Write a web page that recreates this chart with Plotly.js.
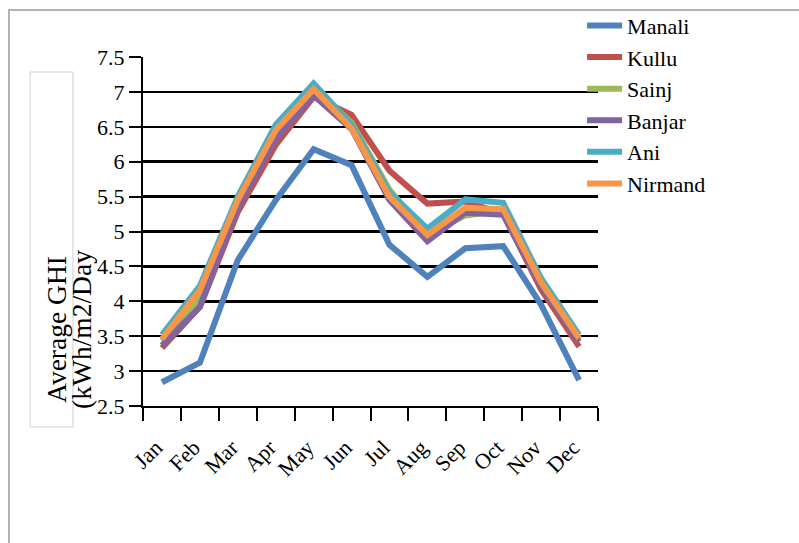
<!DOCTYPE html>
<html>
<head>
<meta charset="utf-8">
<script src="https://cdn.plot.ly/plotly-3.0.1.min.js"></script>
<style>
  body { margin: 0; background: #fff; }
  #ghi_chart { width: 799px; height: 543px; }
</style>
</head>
<body>
<div id="ghi_chart"></div>
<script>
var months = ["Jan", "Feb", "Mar", "Apr", "May", "Jun", "Jul", "Aug", "Sep", "Oct", "Nov", "Dec"];

var manali  = [2.84, 3.12, 4.59, 5.45, 6.18, 5.95, 4.81, 4.35, 4.76, 4.79, 3.95, 2.87];
var kullu   = [3.33, 3.92, 5.28, 6.24, 6.93, 6.67, 5.87, 5.40, 5.43, 5.25, 4.17, 3.35];
var sainj   = [3.43, 4.05, 5.42, 6.42, 7.06, 6.56, 5.60, 4.95, 5.23, 5.30, 4.28, 3.45];
var banjar  = [3.37, 3.92, 5.35, 6.33, 6.95, 6.47, 5.45, 4.86, 5.27, 5.24, 4.22, 3.42];
var ani     = [3.52, 4.22, 5.50, 6.53, 7.12, 6.53, 5.56, 5.04, 5.46, 5.41, 4.33, 3.52];
var nirmand = [3.46, 4.16, 5.45, 6.45, 7.04, 6.48, 5.50, 4.95, 5.34, 5.32, 4.27, 3.47];

var yTitle1 = "Average GHI";
var yTitle2 = "(kWh/m2/Day";

var serif = "Liberation Serif";

function makeLine(name, vals, color) {
	return {
		x: months,
		y: vals,
		name: name,
		type: 'scatter',
		mode: 'lines',
		line: {color: color, width: 6}
	};
}

var data = [
	makeLine("Manali", manali, "#4F81BD"),
	makeLine("Kullu", kullu, "#C0504D"),
	makeLine("Sainj", sainj, "#9BBB59"),
	makeLine("Banjar", banjar, "#8064A2"),
	makeLine("Ani", ani, "#4BACC6"),
	makeLine("Nirmand", nirmand, "#F79646")
];

var layout = {
	width: 799,
	height: 543,
	autosize: false,
	margin: {l: 143, r: 201, t: 57, b: 137, autoexpand: false},
	paper_bgcolor: '#fff',
	plot_bgcolor: '#fff',
	font: {family: serif, size: 22, color: '#000'},
	showlegend: true,
	legend: {
		x: 0.965, xanchor: 'left',
		y: 1.15, yanchor: 'top',
		itemwidth: 35,
		font: {family: serif, size: 22, color: '#000'},
		bgcolor: 'rgba(0,0,0,0)',
		tracegroupgap: 0
	},
	xaxis: {
		type: 'category',
		range: [-0.5, 11.5],
		tickson: 'boundaries',
		showgrid: false,
		showline: true,
		linecolor: '#000',
		linewidth: 2,
		ticks: 'outside',
		ticklen: 13,
		tickwidth: 2,
		tickcolor: '#000',
		tickangle: -45,
		ticklabelstandoff: 18,
		ticklabelshift: -6,
		tickfont: {family: serif, size: 22, color: '#000'},
		zeroline: false,
		fixedrange: true
	},
	yaxis: {
		range: [2.5, 7.5],
		dtick: 0.5,
		tick0: 2.5,
		showgrid: true,
		gridcolor: '#000',
		gridwidth: 2.5,
		showline: true,
		linecolor: '#000',
		linewidth: 2,
		ticks: 'outside',
		ticklen: 12,
		tickwidth: 2,
		tickcolor: '#000',
		tickfont: {family: serif, size: 22, color: '#000'},
		ticklabelstandoff: 0,
		zeroline: false,
		fixedrange: true
	},
	shapes: [
		// outer frame
		{type: 'rect', xref: 'paper', yref: 'paper', x0: -0.2945, x1: 2, y0: -1, y1: 1.1347,
		 line: {color: '#9a9a9a', width: 1.5}, layer: 'below'},
		// y title box
		{type: 'rect', xref: 'paper', yref: 'paper', x0: -0.248, x1: -0.154, y0: -0.060, y1: 0.957,
		 line: {color: '#d0d0d0', width: 1}, layer: 'below'}
	],
	annotations: [
		{text: yTitle1, xref: 'paper', yref: 'paper', x: -0.189, y: 0.218, textangle: -90,
		 xanchor: 'center', yanchor: 'middle', showarrow: false,
		 font: {family: serif, size: 27.5, color: '#000'}},
		{text: yTitle2, xref: 'paper', yref: 'paper', x: -0.134, y: 0.218, textangle: -90,
		 xanchor: 'center', yanchor: 'middle', showarrow: false,
		 font: {family: serif, size: 27.5, color: '#000'}}
	]
};

Plotly.newPlot('ghi_chart', data, layout, {staticPlot: true, displayModeBar: false});
</script>
</body>
</html>
